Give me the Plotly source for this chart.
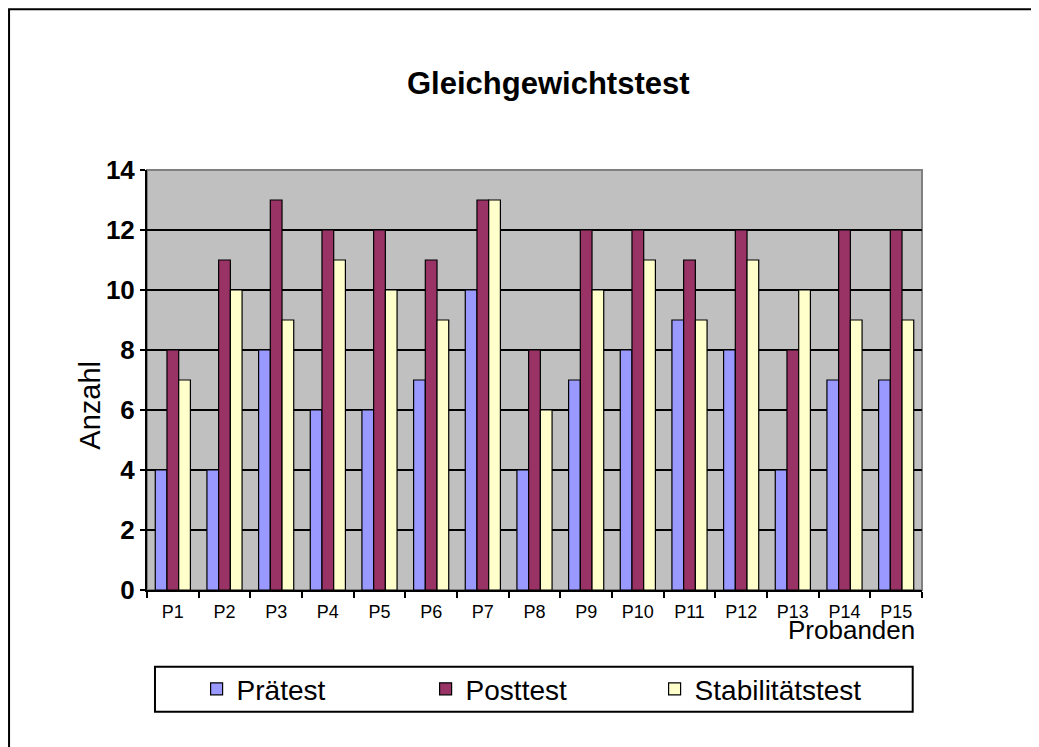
import plotly.graph_objects as go

# values
probanden = ["P1", "P2", "P3", "P4", "P5", "P6", "P7", "P8", "P9", "P10", "P11", "P12", "P13", "P14", "P15"]
praetest = [4, 4, 8, 6, 6, 7, 10, 4, 7, 8, 9, 8, 4, 7, 7]
posttest = [8, 11, 13, 12, 12, 11, 13, 8, 12, 12, 11, 12, 8, 12, 12]
stabilitaet = [7, 10, 9, 11, 10, 9, 13, 6, 10, 11, 9, 11, 10, 9, 9]

font = "Liberation Sans, Arial, sans-serif"

fig = go.Figure()
fig.add_trace(go.Bar(x=probanden, y=praetest, name="Prätest",
                     marker=dict(color="#9999FF", line=dict(color="black", width=1.2))))
fig.add_trace(go.Bar(x=probanden, y=posttest, name="Posttest",
                     marker=dict(color="#993366", line=dict(color="black", width=1.2))))
fig.add_trace(go.Bar(x=probanden, y=stabilitaet, name="Stabilitätstest",
                     marker=dict(color="#FFFFCC", line=dict(color="black", width=1.2))))

fig.update_xaxes(
    tickson="boundaries", ticks="outside", ticklen=6, tickcolor="black", tickwidth=2,
    showline=True, linecolor="black", linewidth=2, ticklabelstandoff=4,
    tickfont=dict(family=font, size=18, color="black"),
)
fig.update_yaxes(
    range=[0, 14], dtick=2, ticks="outside", ticklen=5, tickcolor="black", tickwidth=2,
    showline=True, linecolor="black", linewidth=2,
    showgrid=True, gridcolor="black", gridwidth=2, zeroline=False,
    tickfont=dict(family=font, size=26, color="black", weight="bold"),
)

fig.update_layout(
    width=1039, height=747,
    margin=dict(l=139, r=125, t=162, b=165),
    paper_bgcolor="white",
    plot_bgcolor="#C0C0C0",
    barmode="group", bargap=0.32, bargroupgap=0,
    title=dict(text="<b>Gleichgewichtstest</b>", x=0.52, xanchor="center", y=0.9, yanchor="middle",
               font=dict(family=font, size=31, color="black")),
    showlegend=True,
    legend=dict(orientation="h", x=0.064, xanchor="left", y=-0.236, yanchor="middle",
                entrywidth=184, entrywidthmode="pixels",
                font=dict(family=font, size=28, color="black"),
                bgcolor="rgba(0,0,0,0)", itemclick=False),
    annotations=[
        dict(text="Probanden", xref="paper", yref="paper", x=0.994, y=-0.095,
             xanchor="right", yanchor="middle", showarrow=False,
             font=dict(family=font, size=26, color="black")),
        dict(text="Anzahl", xref="paper", yref="paper", x=-0.073, y=0.44, textangle=-90,
             xanchor="center", yanchor="middle", showarrow=False,
             font=dict(family=font, size=29, color="black")),
    ],
    shapes=[
        # outer chart frame
        dict(type="rect", xref="paper", yref="paper", x0=-0.178, y0=-0.42, x1=1.2, y1=1.383,
             line=dict(color="black", width=2), layer="below"),
        # plot area border
        dict(type="rect", xref="paper", yref="paper", x0=0, y0=0, x1=1, y1=1,
             line=dict(color="#808080", width=2), layer="below"),
        # legend box
        dict(type="rect", xref="paper", yref="paper", x0=0.0103, y0=-0.290, x1=0.988, y1=-0.183,
             line=dict(color="black", width=2)),
    ],
)

fig.write_html("out.html")
